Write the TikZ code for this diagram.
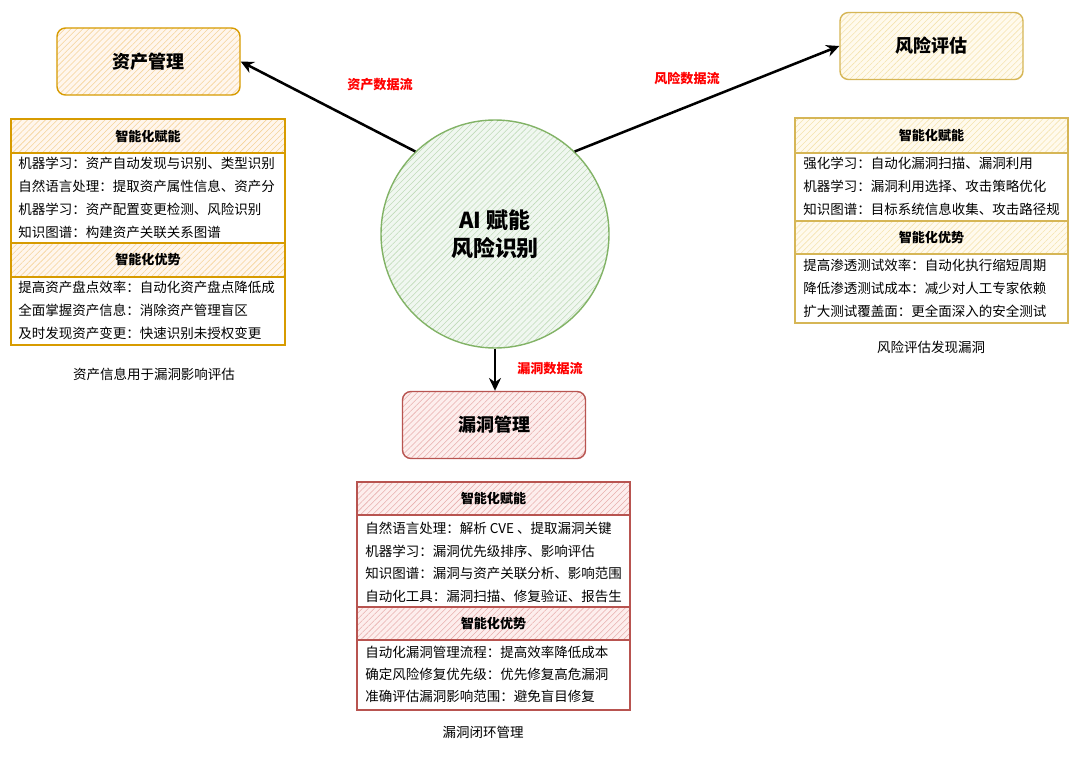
\documentclass[tikz,border=0pt]{standalone}
\usepackage{fontspec}
\setmainfont{Noto Sans CJK SC}
\usepackage{tikz}
\usetikzlibrary{arrows.meta,patterns.meta}
\definecolor{asline}{HTML}{D79B00}
\definecolor{asfill}{HTML}{FFE6CC}
\definecolor{rkline}{HTML}{D6B656}
\definecolor{rkfill}{HTML}{FFF2CC}
\definecolor{vnline}{HTML}{B85450}
\definecolor{vnfill}{HTML}{F8CECC}
\definecolor{ailine}{HTML}{82B366}
\definecolor{aifill}{HTML}{D5E8D4}
\newcommand{\pxu}{*0.025cm}
\tikzset{
  hatch/.style 2 args={draw=#1, preaction={fill=#2!35}, pattern={Lines[angle=45,distance=3pt,line width=0.4pt]}, pattern color=#2!75!#1},
  mgmt/.style 2 args={hatch={#1}{#2}, line width=1pt, rounded corners=6pt, minimum width=183\pxu, minimum height=67\pxu, font=\fontsize{12.8}{15}\selectfont\bfseries},
  hdr/.style 2 args={hatch={#1}{#2}, line width=0.9pt, minimum width=273\pxu, minimum height=34\pxu, font=\fontsize{9.3}{11}\selectfont\bfseries},
  item/.style={anchor=west, inner sep=0pt, font=\fontsize{9.6}{11}\selectfont},
  flow/.style={text=red, font=\fontsize{9.3}{11}\selectfont\bfseries},
  capnote/.style={font=\fontsize{9.6}{11}\selectfont},
  arr/.style={-{Stealth[length=3.2mm,width=3mm]}, line width=1.8pt}}
\begin{document}
\begin{tikzpicture}[x=0.025cm, y=-0.025cm]
  \fill[white] (0,0) rectangle (1080,762);
  \useasboundingbox (0,0) rectangle (1080,762);
  % centre and the three targets
  \node[circle, hatch={ailine}{aifill}, line width=1pt, minimum size=228\pxu, align=center, font=\fontsize{15.6}{20}\selectfont\bfseries] (ai) at (495,234) {AI 赋能\\风险识别};
  \node[mgmt={asline}{asfill}] (asset) at (148.5,61.5) {资产管理};
  \node[mgmt={rkline}{rkfill}] (risk) at (931.5,46) {风险评估};
  \node[mgmt={vnline}{vnfill}] (vuln) at (494,425) {漏洞管理};
  \draw[arr] (ai.134) -- (asset.east);
  \draw[arr] (ai.46) -- (risk.west);
  \draw[arr] (ai.south) -- (ai.south |- vuln.north);
  \node[flow] (fl-as) at (380,85) {资产数据流};
  \node[flow] (fl-rk) at (687,78) {风险数据流};
  \node[flow] (fl-vn) at (550,369) {漏洞数据流};
  % asset list
  \draw[asline, line width=0.9pt] (11,119) rectangle (285,345);
  \node[hdr={asline}{asfill}, minimum width=274\pxu] (as-h1) at (148,136) {智能化赋能};
  \node[hdr={asline}{asfill}, minimum width=274\pxu] (as-h2) at (148,260) {智能化优势};
  \foreach \t [count=\i] in {机器学习：资产自动发现与识别、类型识别, 自然语言处理：提取资产属性信息、资产分, 机器学习：资产配置变更检测、风险识别, 知识图谱：构建资产关联关系图谱}
    \node[item] (as-a\i) at (18,140+23*\i) {\t};
  \foreach \t [count=\i] in {提高资产盘点效率：自动化资产盘点降低成, 全面掌握资产信息：消除资产管理盲区, 及时发现资产变更：快速识别未授权变更}
    \node[item] (as-b\i) at (18,264+23*\i) {\t};
  \node[capnote] (as-cap) at (154,374) {资产信息用于漏洞影响评估};
  % risk list
  \draw[rkline, line width=0.9pt] (795,118) rectangle (1068,323);
  \node[hdr={rkline}{rkfill}, minimum height=35\pxu] (rk-h1) at (931.5,135.5) {智能化赋能};
  \node[hdr={rkline}{rkfill}, minimum height=33\pxu] (rk-h2) at (931.5,237.5) {智能化优势};
  \foreach \t [count=\i] in {强化学习：自动化漏洞扫描、漏洞利用, 机器学习：漏洞利用选择、攻击策略优化, 知识图谱：目标系统信息收集、攻击路径规}
    \node[item] (rk-a\i) at (803,140+23*\i) {\t};
  \foreach \t [count=\i] in {提高渗透测试效率：自动化执行缩短周期, 降低渗透测试成本：减少对人工专家依赖, 扩大测试覆盖面：更全面深入的安全测试}
    \node[item] (rk-b\i) at (803,242+23*\i) {\t};
  \node[capnote] (rk-cap) at (931,347) {风险评估发现漏洞};
  % vulnerability list
  \draw[vnline, line width=0.9pt] (357,482) rectangle (630,710);
  \node[hdr={vnline}{vnfill}, minimum height=33\pxu] (vn-h1) at (493.5,498.5) {智能化赋能};
  \node[hdr={vnline}{vnfill}, minimum height=33\pxu] (vn-h2) at (493.5,623.5) {智能化优势};
  \foreach \t [count=\i] in {自然语言处理：解析 CVE 、提取漏洞关键, 机器学习：漏洞优先级排序、影响评估, 知识图谱：漏洞与资产关联分析、影响范围, 自动化工具：漏洞扫描、修复验证、报告生}
    \node[item] (vn-a\i) at (365,506+22.5*\i) {\t};
  \foreach \t [count=\i] in {自动化漏洞管理流程：提高效率降低成本, 确定风险修复优先级：优先修复高危漏洞, 准确评估漏洞影响范围：避免盲目修复}
    \node[item] (vn-b\i) at (365,630+22*\i) {\t};
  \node[capnote] (vn-cap) at (483,732) {漏洞闭环管理};
\end{tikzpicture}
\end{document}
